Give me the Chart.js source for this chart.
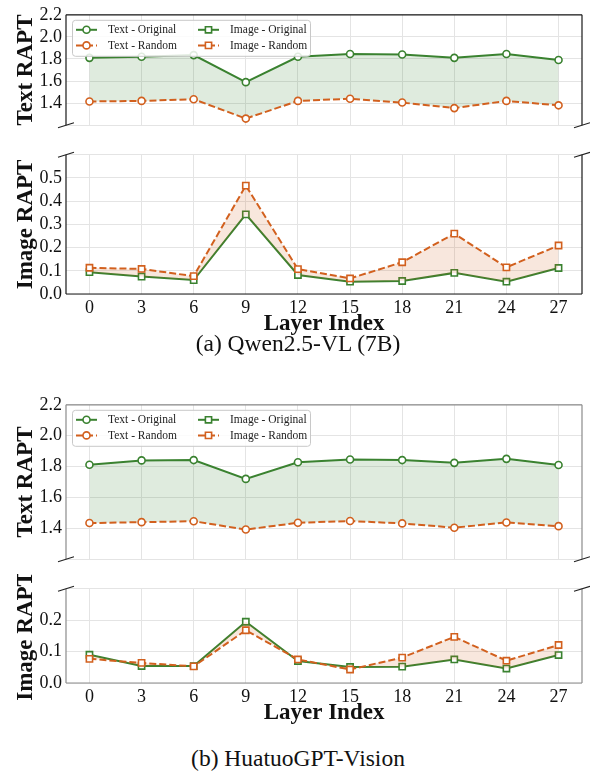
<!DOCTYPE html>
<html>
<head>
<meta charset="utf-8">
<script src="https://cdn.jsdelivr.net/npm/chart.js@4.4.1/dist/chart.umd.min.js"></script>
<style>
  body { margin: 0; background: #fff; }
  #fig { position: relative; width: 590px; height: 773px; overflow: hidden; }
  .pane { position: absolute; left: 0; width: 590px; }
  .cap { position: absolute; left: 0; width: 596px; text-align: center;
         font: 23.5px "Liberation Serif", "Times New Roman", serif; line-height: 28px; color: #111; }
</style>
</head>
<body>
<div id="fig">
  <div class="pane" style="top:0;height:140px"><canvas id="qwenText"></canvas></div>
  <div class="pane" style="top:140px;height:198px"><canvas id="qwenImage"></canvas></div>
  <div class="cap" style="top:329px">(a) Qwen2.5-VL (7B)</div>
  <div class="pane" style="top:390px;height:184px"><canvas id="huatuoText"></canvas></div>
  <div class="pane" style="top:574px;height:153px"><canvas id="huatuoImage"></canvas></div>
  <div class="cap" style="top:744px">(b) HuatuoGPT-Vision</div>
</div>
<script>
// data
const layers = [0, 3, 6, 9, 12, 15, 18, 21, 24, 27];

const qwenTextOrig = [1.81, 1.82, 1.835, 1.59, 1.82, 1.845, 1.84, 1.81, 1.845, 1.79];
const qwenTextRand = [1.415, 1.42, 1.435, 1.26, 1.42, 1.44, 1.405, 1.355, 1.42, 1.38];
const qwenImgOrig = [0.094, 0.075, 0.06, 0.343, 0.082, 0.053, 0.056, 0.091, 0.053, 0.112];
const qwenImgRand = [0.113, 0.108, 0.077, 0.467, 0.107, 0.067, 0.137, 0.26, 0.115, 0.209];

const huatuoTextOrig = [1.812, 1.84, 1.842, 1.72, 1.828, 1.846, 1.842, 1.824, 1.85, 1.81];
const huatuoTextRand = [1.434, 1.44, 1.446, 1.392, 1.436, 1.447, 1.432, 1.404, 1.438, 1.414];
const huatuoImgOrig = [0.09, 0.054, 0.054, 0.195, 0.07, 0.051, 0.052, 0.075, 0.046, 0.089];
const huatuoImgRand = [0.077, 0.064, 0.053, 0.168, 0.075, 0.043, 0.081, 0.147, 0.071, 0.121];

const textTicks = [1.2, 1.4, 1.6, 1.8, 2.0, 2.2];
const qwenImgTicks = [0, 0.1, 0.2, 0.3, 0.4, 0.5, 0.6];
const huatuoImgTicks = [0, 0.1, 0.2, 0.3];

const legendNames = ["Text - Original", "Image - Original", "Text - Random", "Image - Random"];

const GREEN = "#3a8230";
const ORANGE = "#d2601e";
const GREEN_FILL = "rgba(58,130,48,0.16)";
const ORANGE_FILL = "rgba(210,96,30,0.15)";
const GRID = "#e4e4e4";
const SERIF = '"Liberation Serif", "Times New Roman", serif';

function pts(arr) {
  return layers.map((x, i) => ({ x: x, y: arr[i] }));
}

function series(label, arr, color, dashed, shape, fillTarget, fillColor) {
  return {
    label: label,
    data: pts(arr),
    borderColor: color,
    backgroundColor: fillColor || "transparent",
    fill: fillTarget === undefined ? false : fillTarget,
    borderWidth: 2,
    borderDash: dashed ? [7, 3] : [],
    tension: 0,
    pointStyle: shape,
    pointRadius: shape === "rect" ? 4.4 : 3.5,
    pointBorderWidth: 1.6,
    pointBackgroundColor: "#fff",
    pointBorderColor: color,
    order: dashed ? 0 : 1
  };
}

// spines + broken-axis marks
const framePlugin = {
  id: "frame",
  afterDatasetsDraw(chart, args, o) {
    const { ctx, chartArea: a } = chart;
    ctx.save();
    ctx.strokeStyle = o.color;
    ctx.lineWidth = 1.2;
    ctx.beginPath();
    ctx.moveTo(a.left, a.top); ctx.lineTo(a.left, a.bottom);
    ctx.moveTo(a.right, a.top); ctx.lineTo(a.right, a.bottom);
    if (o.breakAt === "bottom") { ctx.moveTo(a.left, a.top); ctx.lineTo(a.right, a.top); }
    else { ctx.moveTo(a.left, a.bottom); ctx.lineTo(a.right, a.bottom); }
    ctx.stroke();
    const y = o.breakAt === "bottom" ? a.bottom : a.top;
    ctx.strokeStyle = "#222";
    ctx.beginPath();
    [a.left, a.right].forEach(x => { ctx.moveTo(x - 8, y + 2.5); ctx.lineTo(x + 8, y - 2.5); });
    ctx.stroke();
    ctx.restore();
  }
};

// two-column legend with line + marker samples
const legendPlugin = {
  id: "rapLegend",
  afterDraw(chart, args, o) {
    if (!o.show) return;
    const { ctx, chartArea: a } = chart;
    const bx = a.left + 6, by = a.top + 5, bw = 238, bh = 36;
    ctx.save();
    ctx.fillStyle = "rgba(255,255,255,0.85)";
    ctx.strokeStyle = "#c8c8c8";
    ctx.lineWidth = 1;
    ctx.beginPath();
    ctx.roundRect(bx + 0.5, by + 0.5, bw, bh, 3);
    ctx.fill(); ctx.stroke();
    const items = [
      { color: GREEN, dash: [], shape: "circle" },
      { color: GREEN, dash: [], shape: "rect" },
      { color: ORANGE, dash: [7, 3], shape: "circle" },
      { color: ORANGE, dash: [7, 3], shape: "rect" }
    ];
    ctx.font = "11.5px " + SERIF;
    ctx.textBaseline = "middle";
    items.forEach((it, i) => {
      const col = i % 2, row = Math.floor(i / 2);
      const x0 = bx + 4 + col * 122, y0 = by + 10 + row * 15.6;
      ctx.strokeStyle = it.color;
      ctx.lineWidth = 2;
      ctx.setLineDash(it.dash);
      ctx.beginPath(); ctx.moveTo(x0, y0); ctx.lineTo(x0 + 21, y0); ctx.stroke();
      ctx.setLineDash([]);
      ctx.fillStyle = "#fff";
      ctx.lineWidth = 1.6;
      ctx.beginPath();
      if (it.shape === "circle") ctx.arc(x0 + 10.5, y0, 3.5, 0, Math.PI * 2);
      else ctx.rect(x0 + 7.4, y0 - 3.1, 6.2, 6.2);
      ctx.fill(); ctx.stroke();
      ctx.fillStyle = "#222";
      ctx.fillText(legendNames[i], x0 + 32, y0 + 0.5);
    });
    ctx.restore();
  }
};

function subplot(id, cfg) {
  new Chart(document.getElementById(id), {
    type: "line",
    data: { datasets: cfg.datasets },
    options: {
      responsive: true,
      maintainAspectRatio: false,
      animation: false,
      layout: { padding: { top: cfg.padTop, right: 8, left: 0, bottom: 0 } },
      plugins: {
        legend: { display: false },
        tooltip: { enabled: false },
        frame: { color: cfg.spine, breakAt: cfg.breakAt },
        rapLegend: { show: !!cfg.legend }
      },
      scales: {
        x: {
          type: "linear",
          min: -1.35,
          max: 28.35,
          afterBuildTicks: s => { s.ticks = layers.map(v => ({ value: v })); },
          afterFit: s => { s.height = cfg.xHeight; },
          grid: { color: GRID, lineWidth: 1, drawTicks: false },
          border: { display: false },
          ticks: {
            display: cfg.showX,
            autoSkip: false,
            maxRotation: 0,
            padding: 3,
            color: "#111",
            font: { family: SERIF, size: 18 },
            callback: v => String(v)
          },
          title: {
            display: cfg.showX,
            text: "Layer Index",
            color: "#111",
            font: { family: SERIF, size: 23, weight: "bold" },
            padding: { top: 0, bottom: 0 }
          }
        },
        y: {
          min: cfg.yTicks[0],
          max: cfg.yTicks[cfg.yTicks.length - 1],
          afterBuildTicks: s => { s.ticks = cfg.yTicks.map(v => ({ value: v })); },
          afterFit: s => { s.width = 66; },
          grid: { color: GRID, lineWidth: 1, drawTicks: false },
          border: { display: false },
          ticks: {
            autoSkip: false,
            padding: 4,
            color: "#111",
            font: { family: SERIF, size: 18 },
            callback: v => (v === cfg.hideTick ? "" : v.toFixed(1))
          },
          title: {
            display: true,
            text: cfg.yTitle,
            color: "#111",
            font: { family: SERIF, size: 23, weight: "bold" },
            padding: { top: 12, bottom: 0 }
          }
        }
      }
    },
    plugins: [framePlugin, legendPlugin]
  });
}

// (a) Qwen2.5-VL (7B)
subplot("qwenText", {
  datasets: [
    series("Text - Original", qwenTextOrig, GREEN, false, "circle", 1, GREEN_FILL),
    series("Text - Random", qwenTextRand, ORANGE, true, "circle")
  ],
  yTicks: textTicks, hideTick: 1.2, yTitle: "Text RAPT",
  padTop: 9, xHeight: 8, showX: false, breakAt: "bottom", spine: "#1a1a1a", legend: true
});
subplot("qwenImage", {
  datasets: [
    series("Image - Original", qwenImgOrig, GREEN, false, "rect"),
    series("Image - Random", qwenImgRand, ORANGE, true, "rect", 0, ORANGE_FILL)
  ],
  yTicks: qwenImgTicks, hideTick: 0.6, yTitle: "Image RAPT",
  padTop: 8, xHeight: 44, showX: true, breakAt: "top", spine: "#1a1a1a"
});

// (b) HuatuoGPT-Vision
subplot("huatuoText", {
  datasets: [
    series("Text - Original", huatuoTextOrig, GREEN, false, "circle", 1, GREEN_FILL),
    series("Text - Random", huatuoTextRand, ORANGE, true, "circle")
  ],
  yTicks: textTicks, hideTick: 1.2, yTitle: "Text RAPT",
  padTop: 7, xHeight: 8, showX: false, breakAt: "bottom", spine: "#8c8c8c", legend: true
});
subplot("huatuoImage", {
  datasets: [
    series("Image - Original", huatuoImgOrig, GREEN, false, "rect"),
    series("Image - Random", huatuoImgRand, ORANGE, true, "rect", 0, ORANGE_FILL)
  ],
  yTicks: huatuoImgTicks, hideTick: 0.3, yTitle: "Image RAPT",
  padTop: 9, xHeight: 44, showX: true, breakAt: "top", spine: "#8c8c8c"
});
</script>
</body>
</html>
